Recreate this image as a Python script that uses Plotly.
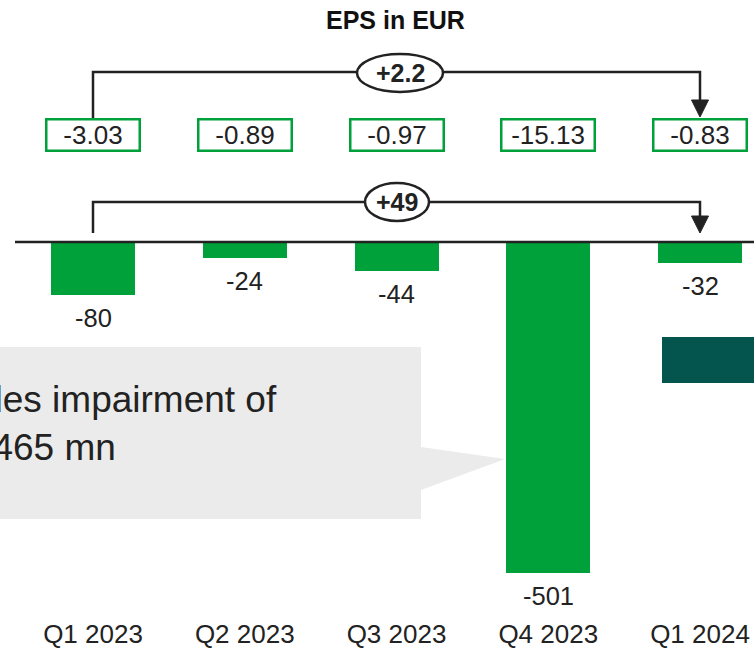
import plotly.graph_objects as go

# ---- data ----
categories = ["Q1 2023", "Q2 2023", "Q3 2023", "Q4 2023", "Q1 2024"]
net_result = [-80, -24, -44, -501, -32]          # EUR mn (bars)
eps_values = [-3.03, -0.89, -0.97, -15.13, -0.83]  # EPS in EUR
eps_change_label = "+2.2"
result_change_label = "+49"
title_text = "EPS in EUR"
callout_text = "Includes impairment of<br>EUR 465 mn"

# ---- geometry / style ----
W, H = 754, 648
MB = 38
HP = H - MB               # plot area height in px
X0, STEP = 93.0, 151.75   # px centre of first category, spacing
ZERO_PX, PX_PER_UNIT = 242.0, 0.66
GREEN = "#00A03A"
DARK = "#222222"
TEAL = "#05554F"
GREY = "#EBEBEB"
FONT = "Arial, Liberation Sans, sans-serif"

def px(x):
    return x / W

def py(y):
    return 1 - y / HP

def cat_px(i):
    return X0 + i * STEP

idx = list(range(len(categories)))

fig = go.Figure()
fig.add_trace(go.Bar(
    x=idx, y=net_result, width=84 / STEP,
    marker=dict(color=GREEN, line=dict(width=0)),
    hoverinfo="skip", showlegend=False,
))

shapes = []
annotations = []

# zero line
shapes.append(dict(type="line", xref="paper", yref="y", x0=px(15), x1=1, y0=0, y1=0,
                   line=dict(color=DARK, width=2.5), layer="above"))

# callout box with pointer
cb = [(0, 347), (421, 347), (421, 447), (505, 459), (421, 490), (421, 519), (0, 519)]
path = "M " + " L ".join(f"{px(a):.5f},{py(b):.5f}" for a, b in cb) + " Z"
shapes.append(dict(type="path", xref="paper", yref="paper", path=path,
                   fillcolor=GREY, line=dict(width=0), layer="below"))
annotations.append(dict(xref="paper", yref="paper", x=px(279), y=py(423),
                        xanchor="right", yanchor="middle", align="left",
                        text=callout_text, showarrow=False,
                        font=dict(family=FONT, size=37, color=DARK)))

# teal rectangle at right
shapes.append(dict(type="rect", xref="paper", yref="paper",
                   x0=px(662), x1=px(760), y0=py(337), y1=py(383),
                   fillcolor=TEAL, line=dict(width=0)))

# brackets
def bracket(y_top, y_bottom_left, y_bottom_right, ah=17, aw=17):
    xl, xr = cat_px(idx[0]), cat_px(idx[-1])
    p = (f"M {px(xl):.5f},{py(y_bottom_left):.5f} L {px(xl):.5f},{py(y_top):.5f} "
         f"L {px(xr):.5f},{py(y_top):.5f} L {px(xr):.5f},{py(y_bottom_right - ah + 1):.5f}")
    shapes.append(dict(type="path", xref="paper", yref="paper", path=p,
                       line=dict(color=DARK, width=2.5)))
    tri = (f"M {px(xr - aw/2):.5f},{py(y_bottom_right - ah):.5f} "
           f"L {px(xr + aw/2):.5f},{py(y_bottom_right - ah):.5f} "
           f"L {px(xr):.5f},{py(y_bottom_right):.5f} Z")
    shapes.append(dict(type="path", xref="paper", yref="paper", path=tri,
                       fillcolor=DARK, line=dict(color=DARK, width=1)))

bracket(72, 118, 117)
bracket(202, 233, 233)

# ellipses with change labels
def ellipse(cx, cy, w, h, label):
    shapes.append(dict(type="circle", xref="paper", yref="paper",
                       x0=px(cx - w/2), x1=px(cx + w/2), y0=py(cy + h/2), y1=py(cy - h/2),
                       fillcolor="white", line=dict(color=DARK, width=2.5)))
    annotations.append(dict(xref="paper", yref="paper", x=px(cx), y=py(cy),
                            text=f"<b>{label}</b>", showarrow=False,
                            xanchor="center", yanchor="middle",
                            font=dict(family=FONT, size=25, color=DARK)))

ellipse(400, 73, 86, 38, eps_change_label)
ellipse(397, 202, 64, 38, result_change_label)

# EPS boxes
for i, v in zip(idx, eps_values):
    annotations.append(dict(xref="x", yref="paper", x=i, y=py(135),
                            text=f"{v:.2f}", showarrow=False,
                            xanchor="center", yanchor="middle",
                            width=89, height=27, borderpad=1,
                            bordercolor=GREEN, borderwidth=2.5, bgcolor="white",
                            font=dict(family=FONT, size=26, color=DARK)))

# bar value labels
for i, v in zip(idx, net_result):
    annotations.append(dict(xref="x", yref="y", x=i, y=v, yshift=-23,
                            text=str(v), showarrow=False,
                            xanchor="center", yanchor="middle",
                            font=dict(family=FONT, size=25.5, color=DARK)))

# title
annotations.append(dict(xref="paper", yref="paper", x=px(395), y=py(20),
                        text=f"<b>{title_text}</b>", showarrow=False,
                        xanchor="center", yanchor="middle",
                        font=dict(family=FONT, size=25, color="#111111")))

fig.update_layout(
    width=W, height=H,
    margin=dict(l=0, r=0, t=0, b=MB),
    paper_bgcolor="white", plot_bgcolor="white",
    shapes=shapes, annotations=annotations,
    xaxis=dict(range=[-X0 / STEP, (W - X0) / STEP], tickvals=idx, ticktext=categories,
               showgrid=False, zeroline=False, showline=False, ticks="",
               ticklabelstandoff=6,
               tickfont=dict(family=FONT, size=26, color=DARK), fixedrange=True),
    yaxis=dict(range=[-(HP - ZERO_PX) / PX_PER_UNIT, ZERO_PX / PX_PER_UNIT],
               visible=False, fixedrange=True),
    bargap=0,
)

fig.write_html("out.html", config={"displayModeBar": False},
               post_script="document.body.style.margin='0px';document.body.style.overflow='hidden';")
